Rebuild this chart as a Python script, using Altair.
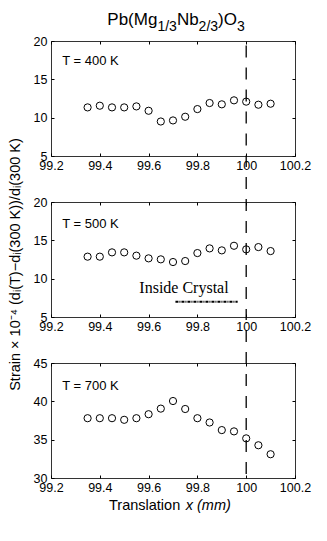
import altair as alt
import pandas as pd

# ---------------- data ----------------
x_pos = [99.35, 99.40, 99.45, 99.50, 99.55, 99.60, 99.65, 99.70,
         99.75, 99.80, 99.85, 99.90, 99.95, 100.00, 100.05, 100.10]
strain_400 = [11.34, 11.56, 11.34, 11.34, 11.47, 10.90, 9.50, 9.64,
              10.12, 11.12, 11.91, 11.74, 12.26, 12.09, 11.69, 11.82]
strain_500 = [12.87, 12.87, 13.43, 13.43, 13.00, 12.65, 12.52, 12.17,
              12.30, 13.34, 13.95, 13.69, 14.29, 13.82, 14.12, 13.60]
strain_700 = [37.80, 37.80, 37.80, 37.59, 37.80, 38.32, 39.05, 40.04,
              39.00, 37.80, 37.24, 36.25, 36.08, 35.17, 34.27, 33.10]

temp_labels = ["T = 400 K", "T = 500 K", "T = 700 K"]
y_domains = [[5, 20], [5, 20], [30, 45]]
y_ticks = [[5, 10, 15, 20], [5, 10, 15, 20], [30, 35, 40, 45]]
label_y = [16.9, 16.6, 41.5]
label_x = 99.246

x_ticks = [99.2, 99.4, 99.6, 99.8, 100.0, 100.2]
x_domain = [99.2, 100.2]
boundary_x = [100.0]

crystal_text = "Inside Crystal"
crystal_text_pos = [99.745, 8.1]
crystal_line_x = [99.71, 99.965]
crystal_line_y = [7.0, 7.0]

title_parts = ["Pb(Mg", "1/3", "Nb", "2/3", ")O", "3"]
y_title = "Strain \u00d7 10\u207b\u2074 (d\u1d62(T)\u2212d\u1d62(300 K))/d\u1d62(300 K)"
x_title_parts = ["Translation", "x (mm)"]

# ---------------- layout / style ----------------
W, H = 244, 115
GAP = 46
FONT = "Liberation Sans, Arial, Helvetica, sans-serif"

xscale = alt.Scale(domain=x_domain, nice=False, zero=False)


def x_axis():
    return alt.Axis(values=x_ticks, format=".1~f", title=None, ticks=False,
                    domain=False, labelPadding=3, labelFontSize=12.5,
                    labelFont=FONT, labelColor="black", labelOverlap=False,
                    labelFlush=False, grid=True, gridColor="black",
                    gridOpacity=1, gridWidth=1, gridDash=[3, H - 6, 3])


def y_axis(i):
    kw = dict(values=y_ticks[i], ticks=False, domain=False, labelPadding=4,
              labelFontSize=12.5, labelFont=FONT, labelColor="black",
              labelOverlap=False, labelFlush=False, grid=True,
              gridColor="black", gridOpacity=1, gridWidth=1,
              gridDash=[3, W - 6, 3])
    if i == 1:
        kw.update(title=y_title, titleFont=FONT, titleFontSize=14.5,
                  titleFontWeight="normal", titleColor="black",
                  titleX=-36, titleY=62, titleAngle=-90,
                  titleBaseline="middle", titleAlign="center")
    else:
        kw.update(title=None)
    return alt.Axis(**kw)


def panel(i, values, rule_top, dash_offset, extra=None):
    yscale = alt.Scale(domain=y_domains[i], nice=False, zero=False)

    def X(field):
        return alt.X(field, scale=xscale, axis=x_axis())

    def Y(field):
        return alt.Y(field, scale=yscale, axis=y_axis(i))

    df = pd.DataFrame({"x": x_pos, "y": values})
    pts = alt.Chart(df).mark_point(
        shape="circle", filled=False, color="black", size=52, strokeWidth=1,
        opacity=1
    ).encode(x=X("x:Q"), y=Y("y:Q"))
    rule = alt.Chart(pd.DataFrame({"x": boundary_x})).mark_rule(
        color="black", strokeWidth=1.3, strokeDash=[12, 10],
        strokeDashOffset=dash_offset, clip=False
    ).encode(x=X("x:Q"), y=alt.value(rule_top), y2=alt.value(H))
    lab = alt.Chart(pd.DataFrame({"t": [temp_labels[i]],
                                  "x": [label_x],
                                  "y": [label_y[i]]})).mark_text(
        align="left", baseline="alphabetic", font=FONT, fontSize=13,
        color="black"
    ).encode(x=X("x:Q"), y=Y("y:Q"), text="t:N")
    layers = [pts, rule, lab]
    if extra:
        layers += extra(X, Y)
    return alt.layer(*layers).properties(width=W, height=H)


def title_layers(X, Y):
    xs = [56.3, 106.4, 125.9, 147.6, 167.1, 186.0]
    ys = [-16, -10.3, -16, -10.3, -16, -10.3]
    sizes = [17, 14, 17, 14, 17, 14]
    out = []
    for t, xv, yv, fs in zip(title_parts, xs, ys, sizes):
        out.append(alt.Chart(pd.DataFrame({"t": [t]})).mark_text(
            align="left", baseline="alphabetic", font=FONT,
            fontSize=fs, color="black"
        ).encode(x=alt.value(xv), y=alt.value(yv), text="t:N"))
    return out


def crystal_layers(X, Y):
    cdf = pd.DataFrame({"x": crystal_line_x, "y": crystal_line_y})
    line = alt.Chart(cdf).mark_line(
        color="black", strokeWidth=2, strokeDash=[3, 1, 1, 1]
    ).encode(x=X("x:Q"), y=Y("y:Q"))
    txt = alt.Chart(pd.DataFrame({"t": [crystal_text],
                                  "x": [crystal_text_pos[0]],
                                  "y": [crystal_text_pos[1]]})).mark_text(
        align="center", baseline="alphabetic",
        font="Liberation Serif, Times New Roman, serif", fontSize=16,
        color="black"
    ).encode(x=X("x:Q"), y=Y("y:Q"), text="t:N")
    return [line, txt]


def xtitle_layers(X, Y):
    out = []
    styles = [("normal", 58.0), ("italic", 134.7)]
    for t, (st, xv) in zip(x_title_parts, styles):
        out.append(alt.Chart(pd.DataFrame({"t": [t]})).mark_text(
            align="left", baseline="alphabetic", font=FONT, fontSize=14.5,
            fontStyle=st, color="black"
        ).encode(x=alt.value(xv), y=alt.value(H + 32), text="t:N"))
    return out


p1 = panel(0, strain_400, 4.5, 0, title_layers)
p2 = panel(1, strain_500, -GAP, 1, crystal_layers)
p3 = panel(2, strain_700, -GAP, 9, xtitle_layers)

chart = alt.vconcat(p1, p2, p3, spacing=GAP, bounds="flush").properties(
    padding={"left": -2, "top": 2, "right": 5, "bottom": 5},
    background="white"
).configure_view(stroke="#333", strokeWidth=1)

chart.save("out.html", embed_options={"renderer": "svg", "actions": False})
